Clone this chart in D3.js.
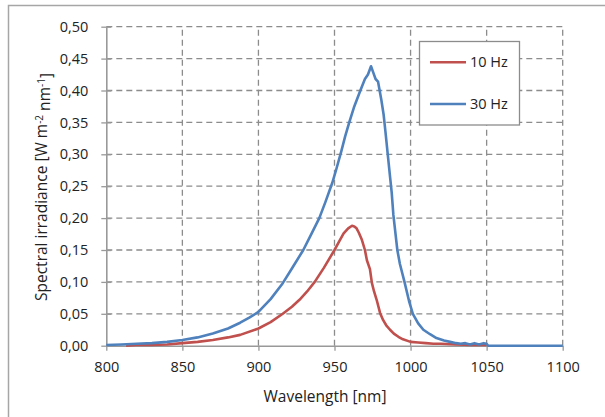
<!DOCTYPE html>
<html><head><meta charset="utf-8">
<script src="https://cdn.jsdelivr.net/npm/d3@7"></script>
<style>body{margin:0;background:#fff;} text{font-family:"Open Sans","Noto Sans",sans-serif;fill:#222;}</style>
</head><body>
<svg id="c" width="605" height="417"></svg>
<script>
const xTicks = [800, 850, 900, 950, 1000, 1050, 1100];
const yTicks = [0, 0.05, 0.10, 0.15, 0.20, 0.25, 0.30, 0.35, 0.40, 0.45, 0.50];
const seriesNames = ["10 Hz", "30 Hz"];
const seriesColors = ["#C0504D", "#4F81BD"];

const wl10 = [813, 820, 830, 840, 850, 860, 870, 880, 888, 900, 908, 916, 922, 927, 932, 937, 943, 950, 953, 956, 959, 961.5, 963, 964.5, 966, 968, 970, 971.3, 973.3, 974.6, 976, 977.7, 980, 982, 984, 986.5, 989, 992, 995, 1000, 1005, 1010, 1015, 1020, 1030, 1040, 1050];
const irr10 = [0.000, 0.001, 0.001, 0.002, 0.004, 0.006, 0.009, 0.013, 0.017, 0.027, 0.037, 0.050, 0.061, 0.072, 0.085, 0.100, 0.122, 0.150, 0.163, 0.176, 0.184, 0.188, 0.187, 0.184, 0.177, 0.166, 0.150, 0.134, 0.120, 0.098, 0.085, 0.072, 0.051, 0.040, 0.032, 0.025, 0.019, 0.014, 0.010, 0.006, 0.005, 0.004, 0.003, 0.003, 0.002, 0.001, 0.001];

const wl30 = [800, 810, 820, 830, 840, 850, 860, 870, 880, 888, 894, 900, 908, 916, 922, 929.5, 935, 940, 944, 948.5, 951, 954.5, 957, 959.7, 963, 967, 970, 972, 974, 975.5, 977, 978.6, 980.8, 982.3, 983.5, 985, 986.5, 987.6, 988.7, 991.3, 993, 996, 999, 1001.5, 1005, 1008.4, 1012.8, 1017, 1022, 1026, 1030, 1033, 1036, 1039, 1042, 1045, 1048, 1050, 1051, 1075, 1100];
const irr30 = [0.001, 0.002, 0.003, 0.004, 0.006, 0.009, 0.013, 0.019, 0.027, 0.036, 0.044, 0.053, 0.073, 0.098, 0.121, 0.150, 0.176, 0.200, 0.225, 0.255, 0.275, 0.305, 0.328, 0.350, 0.375, 0.400, 0.418, 0.425, 0.438, 0.428, 0.418, 0.414, 0.385, 0.362, 0.335, 0.300, 0.265, 0.240, 0.205, 0.150, 0.128, 0.100, 0.070, 0.050, 0.035, 0.025, 0.018, 0.012, 0.008, 0.006, 0.004, 0.003, 0.004, 0.002, 0.004, 0.002, 0.004, 0.003, 0.000, 0.000, 0.000];

const svg = d3.select("#c");
const m = {left: 106.3, right: 562.7, top: 26.7, bottom: 345.7};
const FS = "14.5px";

// outer frame
svg.append("rect").attr("x", 8.5).attr("y", 5.5).attr("width", 620).attr("height", 430)
  .attr("fill", "none").attr("stroke", "#a6a6a6").attr("stroke-width", 1.5);

const x = d3.scaleLinear().domain([800, 1100]).range([m.left, m.right]);
const y = d3.scaleLinear().domain([0, 0.5]).range([m.bottom, m.top]);

const gridColor = "#8c8c8c";
svg.append("g").selectAll("line").data(yTicks.filter(d => d > 0)).join("line")
  .attr("x1", m.left).attr("x2", m.right).attr("y1", d => y(d)).attr("y2", d => y(d))
  .attr("stroke", gridColor).attr("stroke-width", 1.3).attr("stroke-dasharray", "6,4");
svg.append("g").selectAll("line").data(xTicks.filter(d => d > 800)).join("line")
  .attr("y1", m.bottom).attr("y2", m.top).attr("x1", d => x(d)).attr("x2", d => x(d))
  .attr("stroke", gridColor).attr("stroke-width", 1.3).attr("stroke-dasharray", "6,4");

const fmt = d => d3.format(".2f")(d).replace(".", ",");
const yAxis = svg.append("g").attr("transform", `translate(${m.left},0)`)
  .call(d3.axisLeft(y).tickValues(yTicks).tickFormat(fmt).tickSizeInner(5).tickSizeOuter(0).tickPadding(13));
yAxis.selectAll(".tick line").attr("x2", 10).attr("x1", 0).attr("transform", "translate(-5,0)");
const xAxis = svg.append("g").attr("transform", `translate(0,${m.bottom})`)
  .call(d3.axisBottom(x).tickValues(xTicks).tickFormat(d3.format("d")).tickSizeInner(5).tickSizeOuter(0).tickPadding(11));
[yAxis, xAxis].forEach(a => {
  a.select(".domain").attr("stroke", "#999").attr("stroke-width", 1.6);
  a.selectAll(".tick line").attr("stroke", "#999").attr("stroke-width", 1.3);
  a.selectAll("text").style("font-size", FS).attr("fill", "#222")
    .style("font-family", '"Open Sans","Noto Sans",sans-serif');
});

const line = d3.line().x(d => x(d[0])).y(d => y(d[1]));
const data10 = wl10.map((w, i) => [w, irr10[i]]);
const data30 = wl30.map((w, i) => [w, irr30[i]]);
svg.append("path").datum(data10).attr("d", line).attr("fill", "none")
  .attr("stroke", seriesColors[0]).attr("stroke-width", 2.6).attr("stroke-linejoin", "round");
svg.append("path").datum(data30).attr("d", line).attr("fill", "none")
  .attr("stroke", seriesColors[1]).attr("stroke-width", 2.6).attr("stroke-linejoin", "round");

// legend
svg.append("rect").attr("x", 419.5).attr("y", 41.5).attr("width", 100).attr("height", 83.5)
  .attr("fill", "#fff").attr("stroke", "#8c8c8c").attr("stroke-width", 1.3);
const ly = [62.3, 104];
seriesNames.forEach((n, i) => {
  svg.append("line").attr("x1", 430).attr("x2", 466).attr("y1", ly[i]).attr("y2", ly[i])
    .attr("stroke", seriesColors[i]).attr("stroke-width", 2.6);
  svg.append("text").attr("x", 470).attr("y", ly[i]).attr("dy", "0.35em")
    .style("font-size", FS).text(n);
});

// axis titles
svg.append("text").attr("x", 325).attr("y", 397).attr("dy", "0.35em").attr("text-anchor", "middle")
  .style("font-size", "15.5px").text("Wavelength [nm]");
const yt = svg.append("text").attr("transform", "translate(42,187) rotate(-90)")
  .attr("text-anchor", "middle").attr("dy", "0.35em").style("font-size", "15.5px");
yt.append("tspan").text("Spectral irradiance [W m");
yt.append("tspan").attr("dy", "-0.45em").style("font-size", "10px").text("-2");
yt.append("tspan").attr("dy", "0.45em").text(" nm");
yt.append("tspan").attr("dy", "-0.45em").style("font-size", "10px").text("-1");
yt.append("tspan").attr("dy", "0.45em").text("]");
</script>
</body></html>
